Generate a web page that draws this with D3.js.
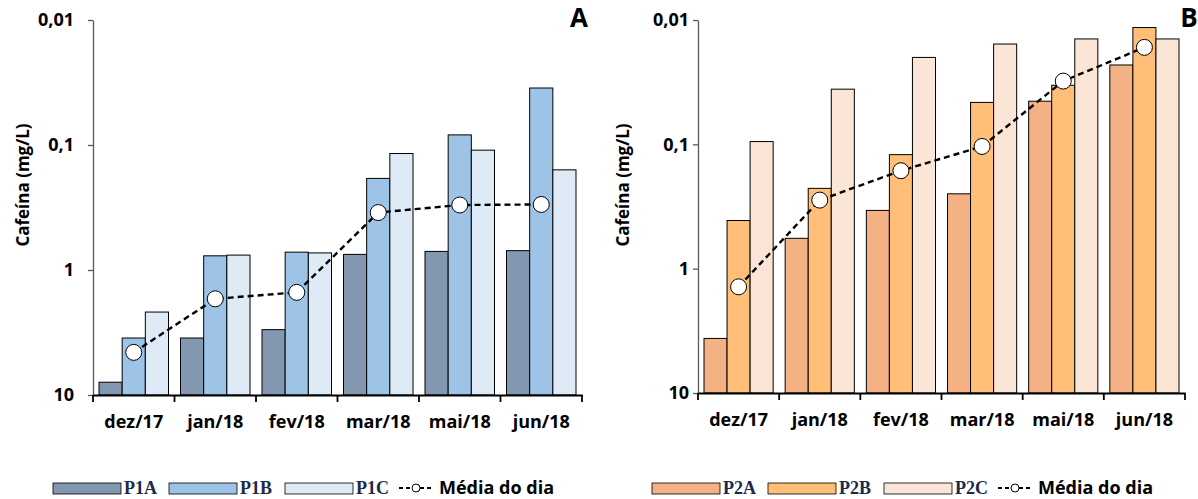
<!DOCTYPE html>
<html>
<head>
<meta charset="utf-8">
<script src="https://cdn.jsdelivr.net/npm/d3@7"></script>
<style>
	body { margin: 0; background: #fff; }
	svg { display: block; }
	.axis text { font-family: "Open Sans", sans-serif; font-weight: bold; fill: #000; }
</style>
</head>
<body>
<div id="chart"></div>
<script>
// months on the x axis (same for both panels)
const months = ["dez/17", "jan/18", "fev/18", "mar/18", "mai/18", "jun/18"];

// panel A - values in mg/L
const p1a = [7.9, 3.5, 3.0, 0.75, 0.71, 0.70];
const p1b = [3.5, 0.77, 0.72, 0.185, 0.083, 0.035];
const p1c = [2.17, 0.76, 0.73, 0.117, 0.110, 0.158];
const media1 = [4.56, 1.70, 1.51, 0.347, 0.302, 0.299];

// panel B - values in mg/L
const p2a = [3.64, 0.57, 0.34, 0.25, 0.045, 0.023];
const p2b = [0.41, 0.226, 0.121, 0.046, 0.0335, 0.0115];
const p2c = [0.095, 0.036, 0.020, 0.0156, 0.0142, 0.0142];
const media2 = [1.40, 0.281, 0.163, 0.104, 0.031, 0.0166];

const yTicks = [0.01, 0.1, 1, 10];
const yTickLabels = ["0,01", "0,1", "1", "10"];

const svg = d3.select("#chart").append("svg")
	.attr("width", 1198)
	.attr("height", 499);

function drawPanel(cfg) {
	const x = d3.scaleBand()
		.domain(months)
		.range([cfg.left, cfg.right])
		.padding(0);

	const gap = 12;
	const xSub = d3.scaleBand()
		.domain(cfg.series.map(s => s.name))
		.range([gap / 2, x.bandwidth() - gap / 2])
		.padding(0);

	const y = d3.scaleLog()
		.domain([0.01, 10])
		.range([cfg.top, cfg.bottom]);

	// bars
	cfg.series.forEach(s => {
		svg.append("g").selectAll("rect")
			.data(s.values.map((v, i) => ({ m: months[i], v: v })))
			.join("rect")
			.attr("x", d => x(d.m) + xSub(s.name))
			.attr("width", xSub.bandwidth())
			.attr("y", d => y(d.v))
			.attr("height", d => y(10) - y(d.v))
			.attr("fill", s.color)
			.attr("stroke", "#000")
			.attr("stroke-width", 1);
	});

	// y axis
	const yAxis = d3.axisLeft(y)
		.tickValues(yTicks)
		.tickFormat((d, i) => yTickLabels[i])
		.tickSize(5)
		.tickPadding(cfg.tickPad)
		.tickSizeOuter(0);

	const yg = svg.append("g")
		.attr("class", "axis")
		.attr("transform", `translate(${cfg.left}, 0)`)
		.call(yAxis);
	yg.selectAll("text").style("font-size", "18px");
	yg.selectAll("line, path").attr("stroke", "#595959").attr("stroke-width", 1.3);

	// x axis: labels at centres, ticks at band edges
	const xAxis = d3.axisBottom(x).tickSize(0).tickPadding(20).tickSizeOuter(0);
	const xg = svg.append("g")
		.attr("class", "axis")
		.attr("transform", `translate(0, ${cfg.bottom})`)
		.call(xAxis);
	xg.selectAll("text").style("font-size", "18px");
	xg.select("path").attr("stroke", "#000").attr("stroke-width", 2.2);

	const edges = months.map(m => x(m)).concat([cfg.right]);
	xg.selectAll(".edge")
		.data(edges)
		.join("line")
		.attr("class", "edge")
		.attr("x1", d => d).attr("x2", d => d)
		.attr("y1", 0).attr("y2", 7)
		.attr("stroke", "#000")
		.attr("stroke-width", 1.8);

	// daily mean line
	const line = d3.line()
		.x((d, i) => x(months[i]) + x.bandwidth() / 2)
		.y(d => y(d));

	svg.append("path")
		.datum(cfg.media)
		.attr("d", line)
		.attr("fill", "none")
		.attr("stroke", "#000")
		.attr("stroke-width", 2.4)
		.attr("stroke-dasharray", "6,4");

	svg.append("g").selectAll("circle")
		.data(cfg.media)
		.join("circle")
		.attr("cx", (d, i) => x(months[i]) + x.bandwidth() / 2)
		.attr("cy", d => y(d))
		.attr("r", 8)
		.attr("fill", "#fff")
		.attr("stroke", "#000")
		.attr("stroke-width", 1);

	// y axis title
	svg.append("text")
		.attr("transform", `translate(${cfg.titleX}, 185) rotate(-90)`)
		.attr("text-anchor", "middle")
		.attr("dominant-baseline", "central")
		.style("font-family", "Open Sans, sans-serif")
		.style("font-weight", "bold")
		.style("font-size", "17px")
		.text("Cafeína (mg/L)");

	// panel letter
	svg.append("text")
		.attr("x", cfg.letterX)
		.attr("y", 27)
		.attr("text-anchor", "middle")
		.style("font-family", "Open Sans, sans-serif")
		.style("font-weight", "bold")
		.style("font-size", "26px")
		.text(cfg.letter);

	// legend
	const lg = svg.append("g").attr("transform", `translate(${cfg.legendX}, 0)`);
	let pos = 0;
	cfg.series.forEach(s => {
		lg.append("rect")
			.attr("x", pos).attr("y", 483)
			.attr("width", 68).attr("height", 11)
			.attr("fill", s.color)
			.attr("stroke", "#000")
			.attr("stroke-width", 0.8);
		lg.append("text")
			.attr("x", pos + 71).attr("y", 494)
			.style("font-family", "Liberation Serif, serif")
			.style("font-weight", "bold")
			.style("font-size", "18px")
			.style("fill", "#1b2a4a")
			.text(s.name);
		pos += 116;
	});
	pos -= 2;
	lg.append("line")
		.attr("x1", pos).attr("x2", pos + 35)
		.attr("y1", 488).attr("y2", 488)
		.attr("stroke", "#000")
		.attr("stroke-width", 2.2)
		.attr("stroke-dasharray", "4,3");
	lg.append("circle")
		.attr("cx", pos + 17).attr("cy", 488).attr("r", 4)
		.attr("fill", "#fff").attr("stroke", "#000").attr("stroke-width", 1);
	lg.append("text")
		.attr("x", pos + 40).attr("y", 494)
		.style("font-family", "Open Sans, sans-serif")
		.style("font-weight", "bold")
		.style("font-size", "18px")
		.text("Média do dia");
}

drawPanel({
	left: 93, right: 582, top: 20, bottom: 395,
	tickPad: 14, titleX: 22, letter: "A", letterX: 579, legendX: 53,
	media: media1,
	series: [
		{ name: "P1A", values: p1a, color: "#8497b0" },
		{ name: "P1B", values: p1b, color: "#9dc3e6" },
		{ name: "P1C", values: p1c, color: "#deebf7" }
	]
});

drawPanel({
	left: 698, right: 1185, top: 20, bottom: 393,
	tickPad: 4, titleX: 622, letter: "B", letterX: 1189, legendX: 652,
	media: media2,
	series: [
		{ name: "P2A", values: p2a, color: "#f4b183" },
		{ name: "P2B", values: p2b, color: "#ffbf78" },
		{ name: "P2C", values: p2c, color: "#fbe5d6" }
	]
});
</script>
</body>
</html>
